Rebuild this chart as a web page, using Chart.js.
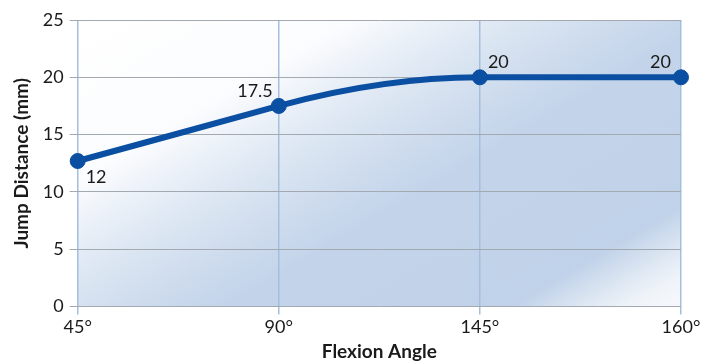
<!DOCTYPE html>
<html><head><meta charset="utf-8">
<script src="https://cdn.jsdelivr.net/npm/chart.js@4/dist/chart.umd.min.js"></script>
<style>html,body{margin:0;padding:0;background:#fff}#wrap{width:706px;height:364px}</style>
</head><body><div id="wrap"><canvas id="c"></canvas></div>
<script>
const categories = ['45°', '90°', '145°', '160°'];
const jumpDistance = [12.7, 17.5, 20, 20];
const pointLabels = ['12', '17.5', '20', '20'];
const yTicks = [0, 5, 10, 15, 20, 25];

const FONT = 'Lato, "Open Sans", sans-serif';
const labelPlacement = [
  {dx: 8, dy: 22, align: 'left'},
  {dx: -6, dy: -9, align: 'right'},
  {dx: 8, dy: -9, align: 'left'},
  {dx: -10, dy: -9, align: 'right'}
];

const bgPlugin = {
  id: 'bg',
  beforeDraw(chart) {
    const {ctx, chartArea: a} = chart;
    const w = a.right - a.left, h = a.bottom - a.top;
    const g = ctx.createLinearGradient(a.left, a.top, a.left + 0.467 * w, a.top + 1.67 * h);
    g.addColorStop(0, '#ffffff');
    g.addColorStop(0.25, '#fbfcfe');
    g.addColorStop(0.38, '#e0e9f4');
    g.addColorStop(0.5, '#cddbed');
    g.addColorStop(0.58, '#c3d4ea');
    g.addColorStop(0.84, '#c0d2e9');
    g.addColorStop(0.9, '#dce6f2');
    g.addColorStop(0.95, '#f0f4f9');
    g.addColorStop(1, '#f6f8fc');
    ctx.save();
    ctx.fillStyle = g;
    ctx.fillRect(a.left, a.top, w, h);
    ctx.restore();
  }
};

// shape the line: straight first segment, smooth ease into the plateau
const shapePlugin = {
  id: 'shape',
  beforeDatasetDraw(chart, args) {
    const meta = chart.getDatasetMeta(args.index);
    const line = meta.dataset;
    line.updateControlPoints(chart.chartArea, 'x');
    const p = meta.data;
    if (p.length < 4) return;
    const s = (p[1].y - p[0].y) / (p[1].x - p[0].x);
    p[0].cp2x = p[0].x + (p[1].x - p[0].x) / 3; p[0].cp2y = p[0].y + (p[1].y - p[0].y) / 3;
    p[1].cp1x = p[1].x - (p[1].x - p[0].x) / 3; p[1].cp1y = p[1].y - (p[1].y - p[0].y) / 3;
    const dx = (p[2].x - p[1].x) / 3;
    p[1].cp2x = p[1].x + dx; p[1].cp2y = Math.max(p[1].y + s * dx, p[2].y);
    p[2].cp1x = p[2].x - dx; p[2].cp1y = p[2].y;
    const dx2 = (p[3].x - p[2].x) / 3;
    p[2].cp2x = p[2].x + dx2; p[2].cp2y = p[2].y + (p[3].y - p[2].y) / 3;
    p[3].cp1x = p[3].x - dx2; p[3].cp1y = p[3].y - (p[3].y - p[2].y) / 3;
  }
};

const labelPlugin = {
  id: 'ptlabels',
  afterDatasetsDraw(chart) {
    const {ctx} = chart;
    const meta = chart.getDatasetMeta(0);
    ctx.save();
    ctx.font = '18px ' + FONT;
    ctx.fillStyle = '#1a1a1a';
    ctx.textBaseline = 'alphabetic';
    meta.data.forEach((p, i) => {
      const pl = labelPlacement[i];
      ctx.textAlign = pl.align;
      ctx.fillText(pointLabels[i], p.x + pl.dx, p.y + pl.dy);
    });
    ctx.restore();
  }
};

new Chart(document.getElementById('c'), {
  type: 'line',
  data: {
    labels: categories,
    datasets: [{
      data: jumpDistance,
      borderColor: '#0a4fa1',
      backgroundColor: '#0a4fa1',
      borderWidth: 6,
      pointRadius: 7.5,
      pointBorderWidth: 1,
      pointHoverRadius: 7.5,
      cubicInterpolationMode: 'monotone',
      clip: false
    }]
  },
  options: {
    responsive: true,
    maintainAspectRatio: false,
    animation: false,
    layout: {padding: {left: 10, right: 25, top: 20, bottom: 1}},
    plugins: {legend: {display: false}, tooltip: {enabled: false}},
    scales: {
      x: {
        offset: false,
        grid: {color: '#a3bfdd', lineWidth: 1.5, tickLength: 8, drawOnChartArea: true},
        border: {display: false},
        ticks: {color: '#1a1a1a', font: {family: FONT, size: 18}, padding: 2, maxRotation: 0},
        title: {display: true, text: 'Flexion Angle', color: '#1a1a1a', font: {family: FONT, size: 19, weight: 'bold'}, padding: {top: 0, bottom: 0}}
      },
      y: {
        min: 0, max: 25,
        afterBuildTicks(scale) { scale.ticks = yTicks.map(v => ({value: v})); },
        grid: {color: '#a3a9b0', lineWidth: 1, tickLength: 8},
        border: {display: false},
        ticks: {color: '#1a1a1a', font: {family: FONT, size: 18}, padding: 6},
        title: {display: true, text: 'Jump Distance (mm)', color: '#1a1a1a', font: {family: FONT, size: 19, weight: 'bold'}, padding: {top: 0, bottom: 4}}
      }
    }
  },
  plugins: [bgPlugin, shapePlugin, labelPlugin]
});
</script></body></html>
